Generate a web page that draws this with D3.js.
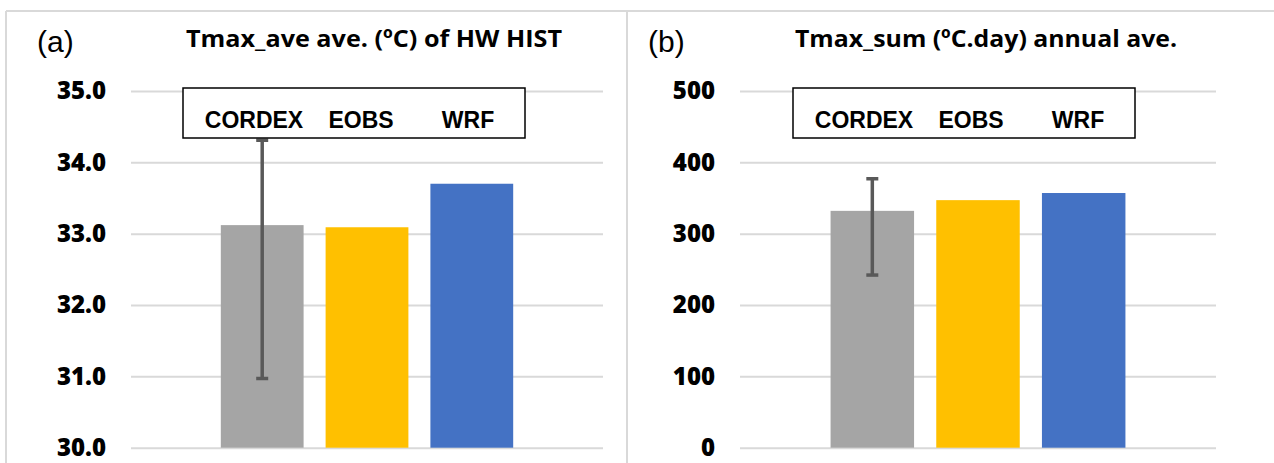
<!DOCTYPE html>
<html>
<head>
<meta charset="utf-8">
<script src="https://cdn.jsdelivr.net/npm/d3@7/dist/d3.min.js"></script>
<style>
  html, body { margin: 0; padding: 0; background: #fff; }
  svg { display: block; }
</style>
</head>
<body>
<svg id="chart" width="1274" height="463"></svg>
<script>
// ---- data ----
const categories = ["CORDEX", "EOBS", "WRF"];
const colors = ["#a5a5a5", "#ffc000", "#4472c4"];

const tmaxAveValues = [33.12, 33.09, 33.70];
const tmaxAveErrLow = 30.97;   // CORDEX error bar lower end
const tmaxAveErrHigh = 34.31;  // CORDEX error bar upper end
const tmaxAveTicks = [30, 31, 32, 33, 34, 35];

const tmaxSumValues = [332, 347, 357];
const tmaxSumErrLow = 242;
const tmaxSumErrHigh = 377;
const tmaxSumTicks = [0, 100, 200, 300, 400, 500];

const panelLabels = ["(a)", "(b)"];
const titles = ["Tmax_ave ave. (ºC) of HW HIST", "Tmax_sum (ºC.day) annual ave."];

// ---- layout ----
const svg = d3.select("#chart");
const W = 1274, H = 463;

const frameColor = "#d9d9d9";
svg.append("line").attr("x1", 6).attr("x2", W).attr("y1", 11).attr("y2", 11)
  .attr("stroke", frameColor).attr("stroke-width", 2);
svg.append("line").attr("x1", 6).attr("x2", 6).attr("y1", 11).attr("y2", H)
  .attr("stroke", frameColor).attr("stroke-width", 2);
svg.append("line").attr("x1", 627).attr("x2", 627).attr("y1", 11).attr("y2", H)
  .attr("stroke", frameColor).attr("stroke-width", 2);

const panels = [
  { values: tmaxAveValues, errLow: tmaxAveErrLow, errHigh: tmaxAveErrHigh,
    ticks: tmaxAveTicks, domain: [30, 35], fmt: d3.format(".1f"),
    plotX: [131, 603], labelX: 37, titleX: [186, 562], legendX: 183 },
  { values: tmaxSumValues, errLow: tmaxSumErrLow, errHigh: tmaxSumErrHigh,
    ticks: tmaxSumTicks, domain: [0, 500], fmt: d3.format("d"),
    plotX: [740, 1216], labelX: 648, titleX: [795, 1177], legendX: 793 }
];

const plotTop = 91, plotBottom = 447.7;
const calibriLike = "'Open Sans', Lato, sans-serif";

panels.forEach((p, i) => {
  const g = svg.append("g");
  const y = d3.scaleLinear().domain(p.domain).range([plotBottom, plotTop]);
  const x = d3.scaleBand().domain(categories).range(p.plotX)
    .paddingInner(0.21).paddingOuter(0.857);

  const axis = d3.axisLeft(y).tickValues(p.ticks).tickFormat(p.fmt)
    .tickSizeInner(-(p.plotX[1] - p.plotX[0])).tickSizeOuter(0).tickPadding(25);
  const ag = g.append("g").attr("transform", `translate(${p.plotX[0]},0)`).call(axis);
  ag.select(".domain").remove();
  ag.selectAll(".tick line").attr("stroke", frameColor).attr("stroke-width", 2);
  ag.selectAll(".tick text")
    .attr("font-family", calibriLike)
    .attr("font-weight", 800).attr("font-size", 24).attr("fill", "#000");

  g.selectAll("rect.bar").data(p.values).join("rect").attr("class", "bar")
    .attr("x", (d, j) => x(categories[j]))
    .attr("width", x.bandwidth())
    .attr("y", d => y(d))
    .attr("height", d => y(p.domain[0]) - y(d))
    .attr("fill", (d, j) => colors[j]);

  const ex = x(categories[0]) + x.bandwidth() / 2;
  const eg = g.append("g").attr("stroke", "#595959").attr("stroke-width", 3.5);
  eg.append("line").attr("x1", ex).attr("x2", ex).attr("y1", y(p.errLow)).attr("y2", y(p.errHigh));
  [p.errLow, p.errHigh].forEach(v => {
    eg.append("line").attr("x1", ex - 6).attr("x2", ex + 6).attr("y1", y(v)).attr("y2", y(v));
  });

  const lx = p.legendX, ly = 88, lw = 342, lh = 50;
  g.append("rect").attr("x", lx).attr("y", ly).attr("width", lw).attr("height", lh)
    .attr("fill", "#fff").attr("stroke", "#000").attr("stroke-width", 1.5);
  const lp = d3.scalePoint().domain(categories).range([lx + 71, lx + 285]);
  g.selectAll("text.leg").data(categories).join("text").attr("class", "leg")
    .attr("x", d => lp(d)).attr("y", 128)
    .attr("text-anchor", "middle")
    .attr("font-family", "'Liberation Sans', Arial, sans-serif")
    .attr("font-weight", "bold").attr("font-size", 23)
    .text(d => d);

  g.append("text").attr("x", p.labelX).attr("y", 52)
    .attr("font-family", "'Liberation Sans', Arial, sans-serif")
    .attr("font-size", 30).text(panelLabels[i]);

  g.append("text").attr("x", p.titleX[0]).attr("y", 47)
    .attr("font-family", calibriLike)
    .attr("font-weight", "bold").attr("font-size", 24)
    .attr("textLength", p.titleX[1] - p.titleX[0])
    .attr("lengthAdjust", "spacingAndGlyphs")
    .text(titles[i]);
});
</script>
</body>
</html>
